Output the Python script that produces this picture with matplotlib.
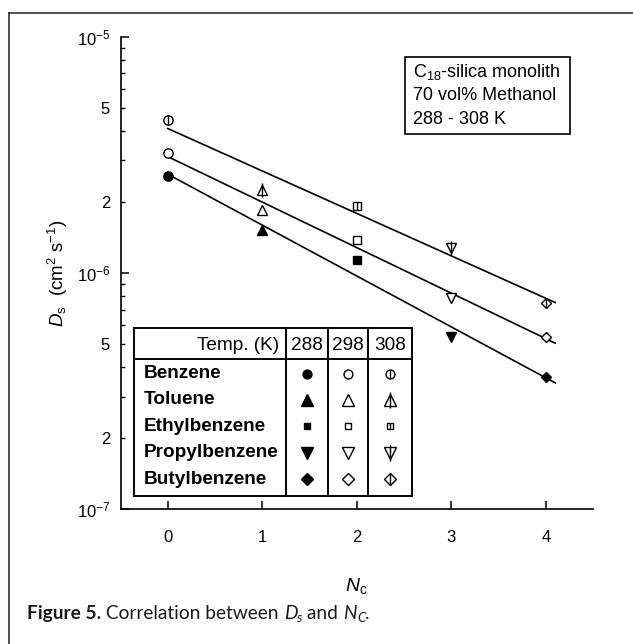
import numpy as np
import matplotlib
matplotlib.use('Agg')
import matplotlib.pyplot as plt
from matplotlib.ticker import FixedLocator, FixedFormatter
from matplotlib.patches import Rectangle
from matplotlib.lines import Line2D

plt.rcParams['font.family'] = ['Liberation Sans', 'DejaVu Sans']
plt.rcParams['mathtext.fontset'] = 'custom'
plt.rcParams['mathtext.rm'] = 'Liberation Sans'
plt.rcParams['mathtext.it'] = 'Liberation Sans:italic'
plt.rcParams['mathtext.bf'] = 'Liberation Sans:bold'

# ---------------- data ----------------
nc = [0, 1, 2, 3, 4]
compounds = ['Benzene', 'Toluene', 'Ethylbenzene', 'Propylbenzene', 'Butylbenzene']
temps = ['288', '298', '308']
ds_288 = [2.58e-6, 1.52e-6, 1.13e-6, 5.36e-7, 3.64e-7]
ds_298 = [3.22e-6, 1.84e-6, 1.38e-6, 7.85e-7, 5.37e-7]
ds_308 = [4.46e-6, 2.24e-6, 1.92e-6, 1.27e-6, 7.49e-7]
series = [ds_288, ds_298, ds_308]
x_ticks = [0, 1, 2, 3, 4]
fit_range = [0, 4.1]
box_lines = [r'C$_{\mathregular{18}}$-silica monolith', '70 vol% Methanol', '288 - 308 K']

markers = ['o', '^', 's', 'v', 'D']
msizes = [6.7, 7.6, 5.5, 7.6, 5.5]
tsizes = [6.4, 9.0, 5.0, 9.0, 6.4]
bar_scale = [1.0, 1.3, 1.0, 1.3, 1.35]

W, H = 633, 644
fig = plt.figure(figsize=(W / 100, H / 100), dpi=100)
ax = fig.add_axes([120.5 / W, 1 - 509.3 / H, 472.5 / W, 472.6 / H])
ax.set_yscale('log')
ax.set_xlim(-0.5, 4.5)
ax.set_ylim(1e-7, 1e-5)
for s in ['top', 'right']:
    ax.spines[s].set_visible(False)
for s in ['left', 'bottom']:
    ax.spines[s].set_linewidth(1.2)

# ticks
ax.xaxis.set_major_locator(FixedLocator(x_ticks))
ax.set_xticklabels([str(v) for v in x_ticks])
ax.tick_params(axis='x', which='major', direction='in', length=6, width=1.1,
               labelsize=12, pad=15)
ax.tick_params(axis='x', which='minor', length=0)
ax.yaxis.set_major_locator(FixedLocator([1e-7, 1e-6, 1e-5]))
ax.yaxis.set_major_formatter(FixedFormatter([r'$10^{\mathregular{-7}}$',
                                             r'$10^{\mathregular{-6}}$',
                                             r'$10^{\mathregular{-5}}$']))
minor_pos, minor_lab = [], []
for dec in [1e-7, 1e-6]:
    for m in range(2, 10):
        minor_pos.append(m * dec)
        minor_lab.append(str(m) if m in (2, 5) else '')
ax.yaxis.set_minor_locator(FixedLocator(minor_pos))
ax.yaxis.set_minor_formatter(FixedFormatter(minor_lab))
ax.tick_params(axis='y', which='major', direction='in', length=5.5, width=1.1,
               labelsize=12, pad=7.5)
ax.tick_params(axis='y', which='minor', direction='in', length=3, width=1.0,
               labelsize=12, pad=7.5)

# fit lines
for vals in series:
    k, b = np.polyfit(nc, np.log10(vals), 1)
    xs = np.array(fit_range)
    ax.plot(xs, 10 ** (k * xs + b), color='black', lw=1.2, zorder=2)

# points
for ti, vals in enumerate(series):
    for ci, (x, y) in enumerate(zip(nc, vals)):
        if ti == 0:
            ax.plot(x, y, marker=markers[ci], ms=msizes[ci], mfc='black', mec='black',
                    ls='none', zorder=3, clip_on=False)
        else:
            ax.plot(x, y, marker=markers[ci], ms=msizes[ci], mfc='white', mec='black',
                    mew=1.0, ls='none', zorder=3, clip_on=False)
            if ti == 2:
                ax.plot(x, y, marker='|', ms=msizes[ci] * bar_scale[ci], mec='black',
                        mew=1.0, ls='none', zorder=4, clip_on=False)

ax.set_xlabel(r'$N_{\mathregular{c}}$', fontsize=14, labelpad=22)
ax.set_ylabel(r'$D_{\mathregular{s}}$  (cm$^{\mathregular{2}}$ s$^{\mathregular{-1}}$)',
              fontsize=13.5, labelpad=4.5)

# ---------------- overlay (pixel coordinates) ----------------
oax = fig.add_axes([0, 0, 1, 1], zorder=10)
oax.set_xlim(0, W)
oax.set_ylim(H, 0)
oax.axis('off')
oax.patch.set_alpha(0)

# outer frame
oax.add_line(Line2D([8.5, 8.5], [13, H], color='#333333', lw=1.2))
oax.add_line(Line2D([8.5, W], [13, 13], color='#333333', lw=1.2))

# condition box
oax.add_patch(Rectangle((405, 56.7), 165, 77.6, fc='white', ec='black', lw=1.2))
for i, t in enumerate(box_lines):
    oax.text(413, 72 + i * 23.5, t, fontsize=13, va='center', ha='left')

# table legend
tx0, ty0, tx1, ty1 = 134, 328.3, 411.7, 495.7
oax.add_patch(Rectangle((tx0, ty0), tx1 - tx0, ty1 - ty0, fc='white', ec='black', lw=1.4))
col_edges = [285.7, 327.7, 368.3]
for cx in col_edges:
    oax.add_line(Line2D([cx, cx], [ty0, ty1], color='black', lw=1.4))
oax.add_line(Line2D([tx0, tx1], [359.3, 359.3], color='black', lw=1.4))
oax.text(279, 345, 'Temp. (K)', fontsize=13.7, ha='right', va='center')
col_centers = [306.7, 348, 390]
for cxc, t in zip(col_centers, temps):
    oax.text(cxc, 345, t, fontsize=13.7, ha='center', va='center')
row_y = [373.5, 399.8, 426.2, 452.6, 479]
for ri, name in enumerate(compounds):
    oax.text(144, row_y[ri], name, fontsize=13.7, fontweight='bold', ha='left', va='center')
    for ti in range(3):
        fc = 'black' if ti == 0 else 'white'
        oax.plot(col_centers[ti], row_y[ri], marker=markers[ri], ms=tsizes[ri],
                 mfc=fc, mec='black', mew=1.0, ls='none')
        if ti == 2:
            oax.plot(col_centers[ti], row_y[ri], marker='|', ms=tsizes[ri] * bar_scale[ri],
                     mec='black', mew=1.0, ls='none')

# caption built from pieces
fig.canvas.draw()
renderer = fig.canvas.get_renderer()
cap_font = 'Lato'
cap_size = 13.8
base_y = 619
x = 27
pieces = [('Figure 5.', 'bold', 'normal', 0, 1.0),
          (' Correlation between ', 'normal', 'normal', 0, 1.0),
          ('D', 'normal', 'italic', 0, 1.0),
          ('s', 'normal', 'italic', 3, 0.7),
          (' and ', 'normal', 'normal', 0, 1.0),
          ('N', 'normal', 'italic', 0, 1.0),
          ('C', 'normal', 'italic', 3, 0.7),
          ('.', 'normal', 'normal', 0, 1.0)]
for txt, wt, st, dy, sc in pieces:
    t = oax.text(x, base_y + dy, txt, fontsize=cap_size * sc, fontweight=wt, fontstyle=st,
                 family=cap_font, ha='left', va='baseline', color='#1a1a1a')
    bb = t.get_window_extent(renderer=renderer)
    x += bb.width

fig.savefig('out.png', dpi=100)
